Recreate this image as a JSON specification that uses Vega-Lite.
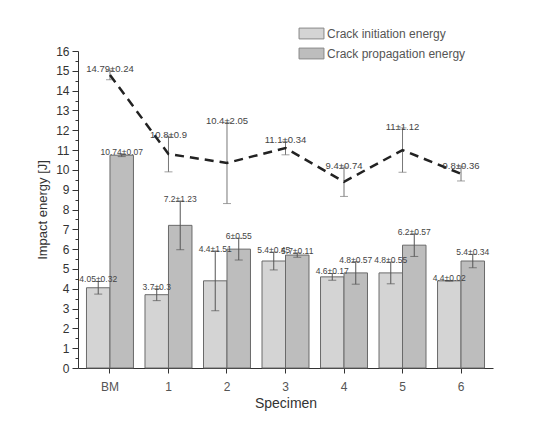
{
  "$schema": "https://vega.github.io/schema/vega-lite/v6.json",
  "width": 415,
  "height": 317,
  "autosize": {"type": "none"},
  "padding": {"left": 78, "top": 51, "right": 54, "bottom": 55},
  "background": "white",
  "resolve": {"axis": {"y": "independent"}},
  "config": {
    "view": {"stroke": null},
    "font": "Liberation Sans",
    "axis": {"domainColor": "#333", "tickColor": "#333", "labelColor": "#333", "titleColor": "#333", "grid": false, "titleFontWeight": "normal", "labelOverlap": false}
  },
  "datasets": {
    "bars": [
      {"s": "BM", "type": "Crack initiation energy", "v": 4.05, "e": 0.32, "label": "4.05±0.32"},
      {"s": "BM", "type": "Crack propagation energy", "v": 10.74, "e": 0.07, "label": "10.74±0.07"},
      {"s": "1", "type": "Crack initiation energy", "v": 3.7, "e": 0.3, "label": "3.7±0.3"},
      {"s": "1", "type": "Crack propagation energy", "v": 7.2, "e": 1.23, "label": "7.2±1.23"},
      {"s": "2", "type": "Crack initiation energy", "v": 4.4, "e": 1.51, "label": "4.4±1.51"},
      {"s": "2", "type": "Crack propagation energy", "v": 6.0, "e": 0.55, "label": "6±0.55"},
      {"s": "3", "type": "Crack initiation energy", "v": 5.4, "e": 0.45, "label": "5.4±0.45"},
      {"s": "3", "type": "Crack propagation energy", "v": 5.7, "e": 0.11, "label": "5.7±0.11"},
      {"s": "4", "type": "Crack initiation energy", "v": 4.6, "e": 0.17, "label": "4.6±0.17"},
      {"s": "4", "type": "Crack propagation energy", "v": 4.8, "e": 0.57, "label": "4.8±0.57"},
      {"s": "5", "type": "Crack initiation energy", "v": 4.8, "e": 0.55, "label": "4.8±0.55"},
      {"s": "5", "type": "Crack propagation energy", "v": 6.2, "e": 0.57, "label": "6.2±0.57"},
      {"s": "6", "type": "Crack initiation energy", "v": 4.4, "e": 0.02, "label": "4.4±0.02"},
      {"s": "6", "type": "Crack propagation energy", "v": 5.4, "e": 0.34, "label": "5.4±0.34"}
    ],
    "total": [
      {"s": "BM", "v": 14.79, "e": 0.24, "label": "14.79±0.24"},
      {"s": "1", "v": 10.8, "e": 0.9, "label": "10.8±0.9"},
      {"s": "2", "v": 10.35, "e": 2.05, "label": "10.4±2.05"},
      {"s": "3", "v": 11.1, "e": 0.34, "label": "11.1±0.34"},
      {"s": "4", "v": 9.4, "e": 0.74, "label": "9.4±0.74"},
      {"s": "5", "v": 11.0, "e": 1.12, "label": "11±1.12"},
      {"s": "6", "v": 9.8, "e": 0.36, "label": "9.8±0.36"}
    ]
  },
  "encoding": {
    "x": {
      "field": "s", "type": "nominal", "sort": ["BM", "1", "2", "3", "4", "5", "6"],
      "scale": {"domain": ["BM", "1", "2", "3", "4", "5", "6"], "paddingInner": 0.197, "paddingOuter": 0.145},
      "axis": {"title": "Specimen", "labelAngle": 0, "labelFontSize": 12, "labelColor": "#555", "labelPadding": 8, "titleFontSize": 14, "titlePadding": 4, "tickSize": 5}
    }
  },
  "layer": [
    {
      "data": {"name": "bars"},
      "mark": {"type": "bar", "stroke": "#6a6a6a", "strokeWidth": 1},
      "encoding": {
        "xOffset": {"field": "type", "type": "nominal", "scale": {"paddingInner": 0, "paddingOuter": 0}},
        "y": {
          "field": "v", "type": "quantitative",
          "scale": {"domain": [0, 16], "nice": false, "zero": true},
          "axis": {
            "orient": "left",
            "title": "Impact energy [J]", "titleFontSize": 13, "titlePadding": 6,
            "values": [0,1,2,3,4,5,6,7,8,9,10,11,12,13,14,15,16],
            "labelFontSize": 12, "labelPadding": 3, "tickSize": 6
          }
        },
        "color": {
          "field": "type", "type": "nominal",
          "scale": {"domain": ["Crack initiation energy", "Crack propagation energy"], "range": ["#d4d4d4", "#bdbdbd"]},
          "legend": {
            "title": null, "orient": "none", "legendX": 222, "legendY": -29,
            "symbolType": "M-1.15,-0.5H1.15V0.5H-1.15Z", "symbolSize": 470, "symbolStrokeColor": "#888", "symbolStrokeWidth": 1,
            "labelFontSize": 12, "labelColor": "#555", "rowPadding": 1, "labelOffset": 4
          }
        }
      }
    },
    {
      "data": {"name": "bars"},
      "transform": [{"calculate": "datum.v - datum.e", "as": "lo"}, {"calculate": "datum.v + datum.e", "as": "hi"}],
      "mark": {"type": "rule", "color": "#555", "strokeWidth": 1},
      "encoding": {
        "xOffset": {"field": "type", "type": "nominal"},
        "y": {
          "field": "lo", "type": "quantitative",
          "axis": {"orient": "left", "title": null, "labels": false, "domain": false, "tickSize": 3,
            "values": [0.5,1.5,2.5,3.5,4.5,5.5,6.5,7.5,8.5,9.5,10.5,11.5,12.5,13.5,14.5,15.5]}
        },
        "y2": {"field": "hi"}
      }
    },
    {
      "data": {"name": "bars"},
      "transform": [{"calculate": "datum.v - datum.e", "as": "lo"}],
      "mark": {"type": "tick", "color": "#555", "size": 8, "thickness": 1},
      "encoding": {
        "xOffset": {"field": "type", "type": "nominal"},
        "y": {"field": "lo", "type": "quantitative", "axis": null}
      }
    },
    {
      "data": {"name": "bars"},
      "transform": [{"calculate": "datum.v + datum.e", "as": "hi"}],
      "mark": {"type": "tick", "color": "#555", "size": 8, "thickness": 1},
      "encoding": {
        "xOffset": {"field": "type", "type": "nominal"},
        "y": {"field": "hi", "type": "quantitative", "axis": null}
      }
    },
    {
      "data": {"name": "bars"},
      "transform": [{"calculate": "datum.v + datum.e", "as": "hi"}],
      "mark": {"type": "text", "fontSize": 8.5, "color": "#444", "baseline": "bottom", "dy": 3},
      "encoding": {
        "xOffset": {"field": "type", "type": "nominal"},
        "y": {"field": "hi", "type": "quantitative", "axis": null},
        "text": {"field": "label"}
      }
    },
    {
      "data": {"name": "total"},
      "transform": [{"calculate": "datum.v - datum.e", "as": "lo"}, {"calculate": "datum.v + datum.e", "as": "hi"}],
      "mark": {"type": "rule", "color": "#777", "strokeWidth": 1},
      "encoding": {
        "y": {"field": "lo", "type": "quantitative", "axis": null},
        "y2": {"field": "hi"}
      }
    },
    {
      "data": {"name": "total"},
      "transform": [{"calculate": "datum.v - datum.e", "as": "lo"}],
      "mark": {"type": "tick", "color": "#777", "size": 8, "thickness": 1},
      "encoding": {"y": {"field": "lo", "type": "quantitative", "axis": null}}
    },
    {
      "data": {"name": "total"},
      "transform": [{"calculate": "datum.v + datum.e", "as": "hi"}],
      "mark": {"type": "tick", "color": "#777", "size": 8, "thickness": 1},
      "encoding": {"y": {"field": "hi", "type": "quantitative", "axis": null}}
    },
    {
      "data": {"name": "total"},
      "mark": {"type": "line", "color": "#222", "strokeWidth": 2.5, "strokeDash": [9, 6]},
      "encoding": {"y": {"field": "v", "type": "quantitative", "axis": null}}
    },
    {
      "data": {"name": "total"},
      "transform": [{"calculate": "datum.v + datum.e", "as": "hi"}],
      "mark": {"type": "text", "fontSize": 9.5, "color": "#444", "baseline": "bottom", "dy": 4},
      "encoding": {
        "y": {"field": "hi", "type": "quantitative", "axis": null},
        "text": {"field": "label"}
      }
    }
  ]
}
